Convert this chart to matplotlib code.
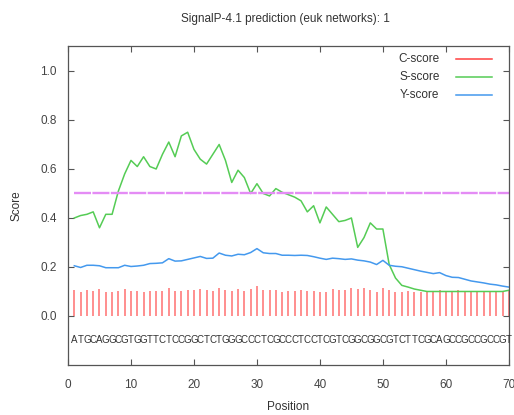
#!/usr/bin/env python3
import matplotlib
matplotlib.use("Agg")
import matplotlib.pyplot as plt
import numpy as np


sequence = "ATGCAGGCGTGGTTCTCCGGCTCTGGGCCCTCGCCCTCCTCGTCGGCGGCGTCTTCGCAGCCGCCGCCGT"
positions = np.arange(1, 71)

c_score = [0.105, 0.098, 0.105, 0.102, 0.109, 0.098, 0.098, 0.102, 0.109, 0.102,
           0.102, 0.098, 0.102, 0.102, 0.102, 0.116, 0.102, 0.102, 0.105, 0.105,
           0.109, 0.105, 0.102, 0.116, 0.105, 0.100, 0.109, 0.100, 0.109, 0.122,
           0.105, 0.105, 0.105, 0.098, 0.102, 0.102, 0.105, 0.102, 0.100, 0.098,
           0.098, 0.109, 0.105, 0.105, 0.113, 0.109, 0.113, 0.105, 0.098, 0.116,
           0.105, 0.098, 0.098, 0.102, 0.098, 0.098, 0.098, 0.100, 0.105, 0.100,
           0.100, 0.105, 0.100, 0.098, 0.100, 0.100, 0.100, 0.100, 0.100, 0.100]

s_score = [0.400, 0.410, 0.415, 0.425, 0.360, 0.415, 0.415, 0.510, 0.580, 0.635,
           0.610, 0.650, 0.610, 0.600, 0.660, 0.710, 0.650, 0.735, 0.750, 0.680,
           0.640, 0.620, 0.660, 0.700, 0.635, 0.545, 0.595, 0.565, 0.500, 0.540,
           0.500, 0.490, 0.520, 0.505, 0.495, 0.485, 0.470, 0.425, 0.450, 0.380,
           0.445, 0.415, 0.385, 0.390, 0.400, 0.280, 0.320, 0.380, 0.355, 0.355,
           0.210, 0.155, 0.125, 0.118, 0.110, 0.105, 0.100, 0.100, 0.100, 0.100,
           0.100, 0.100, 0.100, 0.100, 0.100, 0.100, 0.100, 0.100, 0.100, 0.105]

y_score = [0.205, 0.198, 0.207, 0.207, 0.205, 0.197, 0.197, 0.197, 0.207, 0.202,
           0.204, 0.207, 0.214, 0.215, 0.217, 0.234, 0.224, 0.225, 0.231, 0.237,
           0.243, 0.235, 0.236, 0.257, 0.248, 0.245, 0.252, 0.250, 0.259, 0.275,
           0.258, 0.255, 0.255, 0.248, 0.248, 0.247, 0.248, 0.247, 0.242, 0.236,
           0.231, 0.236, 0.234, 0.231, 0.233, 0.228, 0.225, 0.220, 0.210, 0.227,
           0.207, 0.203, 0.201, 0.195, 0.189, 0.183, 0.178, 0.173, 0.177, 0.165,
           0.158, 0.157, 0.150, 0.143, 0.139, 0.135, 0.130, 0.127, 0.122, 0.118]

cutoff = 0.5
names = ["C-score", "S-score", "Y-score"]
colors = ["#ff4040", "#55cc55", "#4499ee"]
text_grey = "#333333"


def main():
    fig = plt.figure(figsize=(5.14, 4.15), dpi=100)
    ax = fig.add_axes([0.1323, 0.1205, 0.8577, 0.7675])

    ax.vlines(positions, 0, c_score, color=colors[0], linewidth=1.1, alpha=0.75)
    ax.plot(positions, s_score, color=colors[1], linewidth=1.1)
    ax.plot(positions, y_score, color=colors[2], linewidth=1.1)
    ax.plot([positions[0], positions[-1]], [cutoff, cutoff], color="#e48cf5",
            linewidth=1.7, linestyle=(0, (7.2, 0.6)), solid_capstyle="butt")

    for p, letter in zip(positions, sequence):
        ax.text(p, -0.1, letter, ha="center", va="center", fontsize=7,
                color=text_grey)

    ax.set_xlim(0, 70)
    ax.set_ylim(-0.2, 1.1)
    ax.set_xticks(range(0, 71, 10))
    ax.set_yticks([0.0, 0.2, 0.4, 0.6, 0.8, 1.0])
    ax.set_yticklabels(["0.0", "0.2", "0.4", "0.6", "0.8", "1.0"])
    ax.tick_params(direction="in", top=True, right=True, length=4, width=0.8,
                   labelsize=8.5, colors="#555555", labelcolor="#444444")
    ax.tick_params(axis="x", pad=10)
    ax.tick_params(axis="y", pad=8)
    for s in ax.spines.values():
        s.set_color("#555555")
        s.set_linewidth(0.9)

    ax.set_xlabel("Position", fontsize=8.5, color=text_grey, labelpad=7)
    ax.set_ylabel("Score", fontsize=8.5, color=text_grey, labelpad=13)
    fig.text(0.555, 0.955, "SignalP-4.1 prediction (euk networks): 1",
             ha="center", va="center", fontsize=8.5, color=text_grey)

    # gnuplot style key: text first, sample line after
    for k, (name, col) in enumerate(zip(names, colors)):
        yk = 1.05 - k * 0.073
        ax.text(59.0, yk, name, ha="right", va="center", fontsize=8.5,
                color=text_grey)
        ax.plot([61.6, 67.4], [yk, yk], color=col, linewidth=1.1)

    fig.savefig("out.png", dpi=100)


if __name__ == "__main__":
    plt.rcParams.update({
        "font.family": ["Liberation Sans", "DejaVu Sans"],
    })
    main()
